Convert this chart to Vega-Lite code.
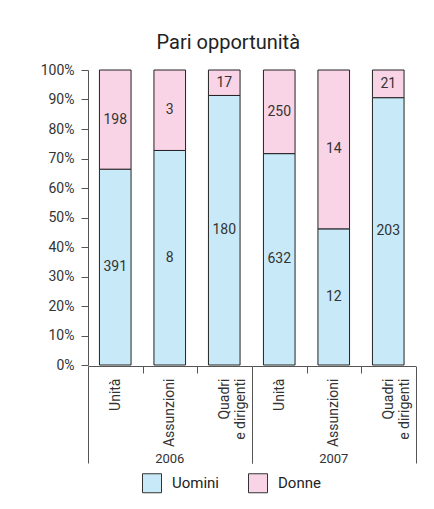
{
  "$schema": "https://vega.github.io/schema/vega-lite/v6.json",
  "padding": {"left": 40, "top": 33, "right": 5, "bottom": 5},
  "background": "white",
  "title": {"text": "Pari opportunità", "fontSize": 20, "font": "Roboto", "fontWeight": "normal", "color": "#222", "anchor": "middle", "offset": 10},
  "data": {"values": [
    {"anno": "2006", "cat": "Unità", "genere": "Uomini", "valore": 391},
    {"anno": "2006", "cat": "Unità", "genere": "Donne", "valore": 198},
    {"anno": "2006", "cat": "Assunzioni", "genere": "Uomini", "valore": 8},
    {"anno": "2006", "cat": "Assunzioni", "genere": "Donne", "valore": 3},
    {"anno": "2006", "cat": "Quadri e dirigenti", "genere": "Uomini", "valore": 180},
    {"anno": "2006", "cat": "Quadri e dirigenti", "genere": "Donne", "valore": 17},
    {"anno": "2007", "cat": "Unità", "genere": "Uomini", "valore": 632},
    {"anno": "2007", "cat": "Unità", "genere": "Donne", "valore": 250},
    {"anno": "2007", "cat": "Assunzioni", "genere": "Uomini", "valore": 12},
    {"anno": "2007", "cat": "Assunzioni", "genere": "Donne", "valore": 14},
    {"anno": "2007", "cat": "Quadri e dirigenti", "genere": "Uomini", "valore": 203},
    {"anno": "2007", "cat": "Quadri e dirigenti", "genere": "Donne", "valore": 21}
  ]},
  "facet": {"column": {"field": "anno", "type": "nominal", "header": {"labelOrient": "bottom", "title": null, "labelFontSize": 13, "labelFont": "Roboto", "labelColor": "#333", "labelPadding": -15}}},
  "spacing": 0,
  "spec": {
    "width": 163.5,
    "height": 295,
    "transform": [
      {"stack": "valore", "groupby": ["anno", "cat"], "sort": [{"field": "genere", "order": "descending"}], "offset": "normalize", "as": ["y0", "y1"]},
      {"calculate": "(datum.y0 + datum.y1) / 2", "as": "ymid"}
    ],
    "encoding": {
      "x": {"field": "cat", "type": "nominal", "sort": ["Unità", "Assunzioni", "Quadri e dirigenti"],
        "scale": {"paddingInner": 0, "paddingOuter": 0},
        "axis": {"title": null, "labelAngle": -90, "labelAlign": "right", "labelBaseline": "middle", "labelFontSize": 14, "labelFont": "Roboto", "labelColor": "#333",
          "labelExpr": "datum.value === 'Quadri e dirigenti' ? ['Quadri', 'e dirigenti'] : datum.value",
          "tickBand": "extent", "tickColor": "#555", "domainColor": "#555",
          "tickSize": {"condition": {"test": "!datum.value || datum.value === 'Quadri e dirigenti'", "value": 97}, "value": 7},
          "labelPadding": {"condition": {"test": "datum.value === 'Quadri e dirigenti'", "value": -85}, "value": 5}}}
    },
    "layer": [
      {"mark": {"type": "bar", "stroke": "#222", "strokeWidth": 1, "width": {"band": 0.58}},
        "encoding": {
          "y": {"field": "y0", "type": "quantitative", "scale": {"domain": [0, 1]},
            "axis": {"title": null, "format": ".0%", "values": [0, 0.1, 0.2, 0.3, 0.4, 0.5, 0.6, 0.7, 0.8, 0.9, 1], "labelOverlap": false, "grid": false, "labelFontSize": 14, "labelFont": "Roboto", "labelColor": "#333", "tickSize": 7, "tickColor": "#555", "domainColor": "#555", "labelPadding": 7}},
          "y2": {"field": "y1"},
          "color": {"field": "genere", "type": "nominal", "scale": {"domain": ["Uomini", "Donne"], "range": ["#c8e9f8", "#f9d4e6"]},
            "legend": {"title": null, "orient": "none", "legendX": 54, "legendY": 403, "direction": "horizontal", "symbolType": "square", "symbolSize": 361, "symbolStrokeColor": "#333", "symbolStrokeWidth": 1, "labelFontSize": 15, "labelFont": "Roboto", "labelColor": "#222", "labelOffset": 10, "columnPadding": 26}}
        }},
      {"mark": {"type": "text", "fontSize": 14, "font": "Roboto", "color": "#333"},
        "encoding": {
          "y": {"field": "ymid", "type": "quantitative",
            "axis": {"title": null, "format": ".0%", "values": [0, 0.1, 0.2, 0.3, 0.4, 0.5, 0.6, 0.7, 0.8, 0.9, 1], "labelOverlap": false, "grid": false, "labelFontSize": 14, "labelFont": "Roboto", "labelColor": "#333", "tickSize": 7, "tickColor": "#555", "domainColor": "#555", "labelPadding": 7}},
          "text": {"field": "valore", "type": "quantitative"}
        }}
    ]
  },
  "config": {"view": {"stroke": null}}
}
